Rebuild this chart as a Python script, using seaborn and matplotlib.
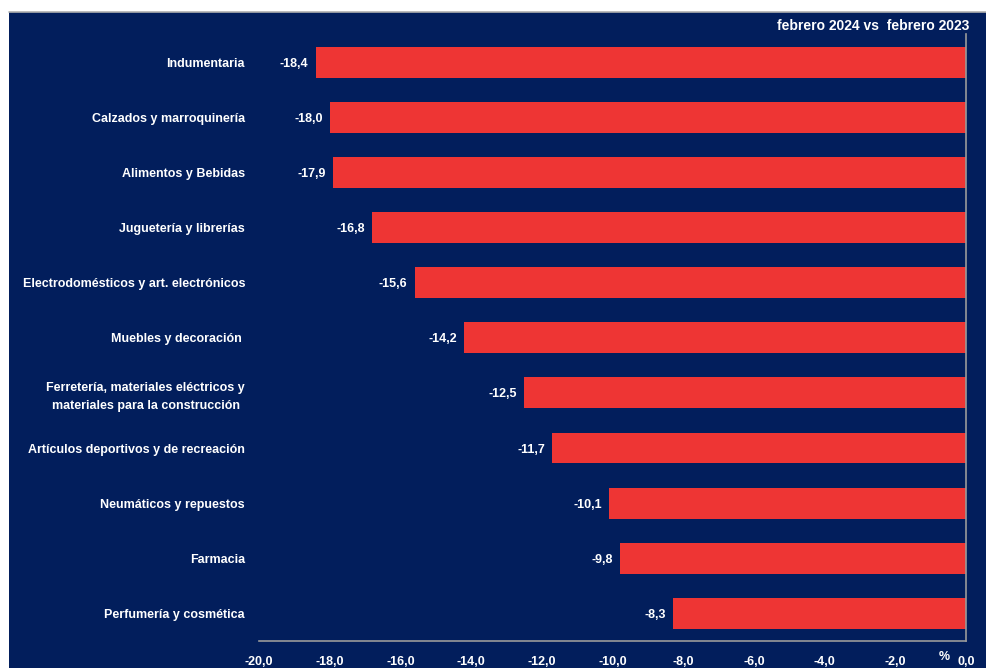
import matplotlib
matplotlib.use("Agg")
import matplotlib.pyplot as plt
import matplotlib.transforms as mtransforms
from matplotlib.patches import Rectangle
import pandas as pd
import seaborn as sns

# Datos
rubros = [
    "Indumentaria",
    "Calzados y marroquinería",
    "Alimentos y Bebidas",
    "Juguetería y librerías",
    "Electrodomésticos y art. electrónicos",
    "Muebles y decoración ",
    "Ferretería, materiales eléctricos y\nmateriales para la construcción",
    "Artículos deportivos y de recreación",
    "Neumáticos y repuestos",
    "Farmacia",
    "Perfumería y cosmética",
]
variacion = [-18.4, -18.0, -17.9, -16.8, -15.6, -14.2, -12.5, -11.7, -10.1, -9.8, -8.3]
ticks_x = [-20, -18, -16, -14, -12, -10, -8, -6, -4, -2, 0]
titulo = "febrero 2024 vs  febrero 2023"

navy = "#021e5c"
rojo = "#ee3534"
gris = "#9a9a9a"

df = pd.DataFrame({"rubro": rubros, "var": variacion})

sns.set_style("white")
plt.rcParams["font.family"] = ["Liberation Sans Narrow", "Liberation Sans", "DejaVu Sans"]

fig = plt.figure(figsize=(9.87, 6.68), dpi=100, facecolor="white")
# fondo azul con franja blanca arriba y a la izquierda
fondo = Rectangle((9 / 987, 0), 1, (668 - 12) / 668, transform=fig.transFigure,
                  facecolor=navy, edgecolor="none", zorder=-10)
fig.patches.append(fondo)
fig.add_artist(plt.Line2D([9 / 987, 1], [(668 - 12) / 668] * 2, transform=fig.transFigure,
                          color="#b0b0b0", lw=1.2, zorder=-5))

ax = fig.add_axes([259 / 987, 27 / 668, (966 - 259) / 987, (641 - 34.5) / 668])
ax.set_facecolor(navy)
ax.set_zorder(1)

sns.barplot(data=df, x="var", y="rubro", color=rojo, saturation=1, width=0.56,
            orient="h", linewidth=0, ax=ax)

ax.set_xlim(-20, 0)
ax.set_ylim(10.5, -0.5)
ax.set_xticks(ticks_x)
ax.set_xticklabels([f"{t:.1f}".replace(".", ",") for t in ticks_x])
ax.set_xlabel("")
ax.set_ylabel("")

for lab in ax.get_yticklabels():
    lab.set_multialignment("center")
    lab.set_linespacing(1.6)

ax.tick_params(axis="x", length=0, pad=11, labelsize=9, labelcolor="white")
ax.tick_params(axis="y", length=0, pad=10, labelsize=9, labelcolor="white")
for lab in ax.get_xticklabels() + ax.get_yticklabels():
    lab.set_fontweight("bold")

for s in ["top", "left"]:
    ax.spines[s].set_visible(False)
for s in ["bottom", "right"]:
    ax.spines[s].set_color(gris)
    ax.spines[s].set_linewidth(1.2)

# etiquetas de valores
for i, v in enumerate(variacion):
    ax.annotate(f"{v:.1f}".replace(".", ","), (v, i), xytext=(-5, 0), textcoords="offset points",
                ha="right", va="center_baseline", color="white", fontsize=9, fontweight="bold")

ax.text(1.005, 1.014, titulo, transform=ax.transAxes, ha="right", va="center",
        color="white", fontsize=10, fontweight="bold")

trans = mtransforms.blended_transform_factory(ax.transData, ax.transAxes)
ax.text(-0.6, -0.026, "%", transform=trans, ha="center", va="center",
        color="white", fontsize=9, fontweight="bold")

fig.savefig("out.png", dpi=100, facecolor=fig.get_facecolor())
